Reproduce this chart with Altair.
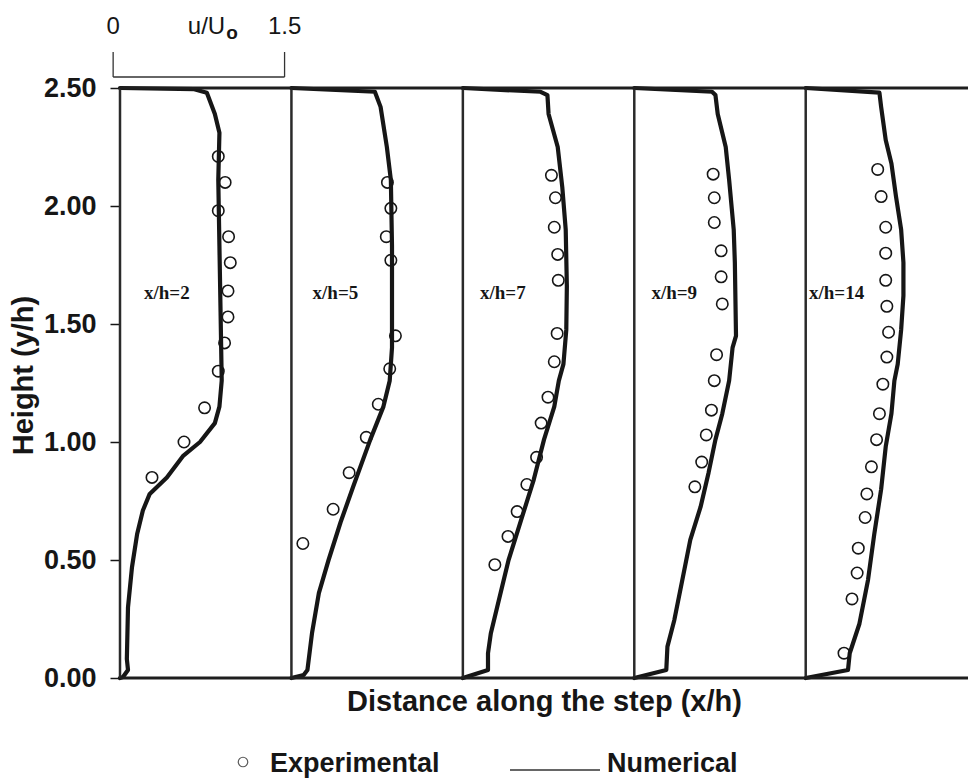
import altair as alt
import pandas as pd

# Measuring stations behind the step
stations = ["x/h=2", "x/h=5", "x/h=7", "x/h=9", "x/h=14"]

# Numerical velocity profiles, u/Uo against y/h, one pair of lists per station
num_u_2 = [0, 0.65, 0.76, 0.83, 0.87, 0.86, 0.87, 0.88, 0.89, 0.87, 0.83, 0.70, 0.55, 0.41, 0.26, 0.20, 0.15, 0.105, 0.07, 0.06, 0.07, 0.026, 0]
num_y_2 = [2.50, 2.495, 2.48, 2.39, 2.31, 2.11, 1.83, 1.55, 1.26, 1.15, 1.08, 1.00, 0.94, 0.85, 0.78, 0.71, 0.61, 0.47, 0.30, 0.08, 0.034, 0.004, 0]

num_u_5 = [0, 0.73, 0.78, 0.835, 0.87, 0.88, 0.88, 0.86, 0.805, 0.69, 0.54, 0.43, 0.325, 0.24, 0.18, 0.14, 0.107, 0]
num_y_5 = [2.50, 2.484, 2.42, 2.25, 2.11, 1.83, 1.40, 1.26, 1.15, 1.01, 0.81, 0.66, 0.50, 0.36, 0.19, 0.034, 0.013, 0]

num_u_7 = [0, 0.68, 0.74, 0.75, 0.83, 0.87, 0.90, 0.91, 0.905, 0.88, 0.84, 0.80, 0.71, 0.62, 0.51, 0.40, 0.32, 0.245, 0.22, 0.22, 0]
num_y_7 = [2.50, 2.484, 2.47, 2.39, 2.25, 2.08, 1.90, 1.66, 1.475, 1.33, 1.26, 1.15, 1.01, 0.84, 0.67, 0.50, 0.34, 0.19, 0.105, 0.034, 0]

num_u_9 = [0, 0.68, 0.71, 0.73, 0.80, 0.83, 0.87, 0.88, 0.89, 0.86, 0.83, 0.77, 0.71, 0.65, 0.58, 0.49, 0.42, 0.35, 0.29, 0.28, 0]
num_y_9 = [2.50, 2.484, 2.47, 2.39, 2.25, 2.11, 1.90, 1.76, 1.45, 1.40, 1.26, 1.12, 1.01, 0.87, 0.725, 0.585, 0.415, 0.245, 0.133, 0.034, 0]

num_u_14 = [0, 0.645, 0.66, 0.70, 0.75, 0.79, 0.835, 0.855, 0.855, 0.835, 0.805, 0.776, 0.75, 0.70, 0.66, 0.60, 0.545, 0.47, 0.385, 0.37, 0]
num_y_14 = [2.50, 2.48, 2.42, 2.28, 2.18, 2.04, 1.90, 1.76, 1.62, 1.475, 1.33, 1.26, 1.12, 0.98, 0.80, 0.61, 0.415, 0.23, 0.105, 0.034, 0]

# Experimental velocity profiles, u/Uo against y/h
exp_u_2 = [0.86, 0.92, 0.86, 0.95, 0.965, 0.945, 0.945, 0.915, 0.86, 0.74, 0.56, 0.28]
exp_y_2 = [2.21, 2.10, 1.98, 1.87, 1.76, 1.64, 1.53, 1.42, 1.30, 1.145, 1.00, 0.85]

exp_u_5 = [0.84, 0.87, 0.83, 0.87, 0.91, 0.86, 0.76, 0.655, 0.505, 0.365, 0.10]
exp_y_5 = [2.10, 1.99, 1.87, 1.77, 1.45, 1.31, 1.16, 1.02, 0.87, 0.715, 0.57]

exp_u_7 = [0.775, 0.81, 0.80, 0.83, 0.835, 0.825, 0.80, 0.745, 0.685, 0.645, 0.56, 0.475, 0.395, 0.28]
exp_y_7 = [2.13, 2.035, 1.91, 1.795, 1.685, 1.46, 1.34, 1.19, 1.08, 0.935, 0.82, 0.705, 0.60, 0.48]

exp_u_9 = [0.69, 0.70, 0.70, 0.76, 0.76, 0.77, 0.72, 0.70, 0.675, 0.63, 0.59, 0.53]
exp_y_9 = [2.135, 2.035, 1.93, 1.81, 1.70, 1.585, 1.37, 1.26, 1.135, 1.03, 0.915, 0.81]

exp_u_14 = [0.63, 0.66, 0.70, 0.70, 0.70, 0.71, 0.725, 0.71, 0.675, 0.645, 0.62, 0.575, 0.535, 0.52, 0.46, 0.45, 0.405, 0.335]
exp_y_14 = [2.155, 2.04, 1.91, 1.80, 1.685, 1.575, 1.465, 1.36, 1.245, 1.12, 1.01, 0.895, 0.78, 0.68, 0.55, 0.445, 0.335, 0.105]

# y/h ticks
y_ticks = [0.0, 0.5, 1.0, 1.5, 2.0, 2.5]

# Scale bar for u/Uo
scale_bar_u = [0.0, 1.5]

# ---- layout constants -------------------------------------------------------
PANEL = 1.5          # horizontal room (in u/Uo) given to each station
X_MAX = 7.42         # right end of the x range
Y_MAX = 2.5
W, H = 848, 590
FONT = "Liberation Sans"
INK = "#161616"

# station label placement inside each panel (u/Uo offset, y/h)
label_u = [0.41, 0.385, 0.35, 0.35, 0.27]
label_y = 1.63

numerical = [(num_u_2, num_y_2), (num_u_5, num_y_5), (num_u_7, num_y_7),
             (num_u_9, num_y_9), (num_u_14, num_y_14)]
experimental = [(exp_u_2, exp_y_2), (exp_u_5, exp_y_5), (exp_u_7, exp_y_7),
                (exp_u_9, exp_y_9), (exp_u_14, exp_y_14)]

num_rows, exp_rows, st_rows = [], [], []
for i, st in enumerate(stations):
    base = i * PANEL
    us, ys = numerical[i]
    for k, (u, y) in enumerate(zip(us, ys)):
        num_rows.append({"station": st, "seq": k, "x": base + u, "y": y})
    us, ys = experimental[i]
    for u, y in zip(us, ys):
        exp_rows.append({"station": st, "x": base + u, "y": y})
    st_rows.append({"station": st, "x": base, "y0": 0.0, "y1": Y_MAX,
                    "lx": base + label_u[i], "ly": label_y})

num_df = pd.DataFrame(num_rows)
exp_df = pd.DataFrame(exp_rows)
st_df = pd.DataFrame(st_rows)
hline_df = pd.DataFrame({"y": [0.0, Y_MAX], "x": [0.0, 0.0], "x2": [X_MAX, X_MAX]})

x_scale = alt.Scale(domain=[0, X_MAX], nice=False, zero=False)
y_scale = alt.Scale(domain=[0, Y_MAX], nice=False)

x_axis = alt.Axis(labels=False, ticks=False, domain=False, grid=False,
                  title="Distance along the step (x/h)", titleFont=FONT,
                  titleFontSize=29, titleFontWeight="bold", titleColor=INK,
                  titlePadding=9)
y_axis = alt.Axis(values=y_ticks, format=".2f", domain=False, grid=False,
                  tickSize=10, tickWidth=1.5, tickColor=INK,
                  labelFont=FONT, labelFontSize=27, labelFontWeight="bold",
                  labelColor=INK, labelPadding=14,
                  title="Height (y/h)", titleFont=FONT, titleFontSize=29,
                  titleFontWeight="bold", titleColor=INK, titleAngle=270,
                  titleX=-88, titleY=H / 2 - 8, titleAlign="center",
                  titleBaseline="alphabetic")


def X(field):
    return alt.X(field, type="quantitative", scale=x_scale, axis=x_axis)


def Y(field):
    return alt.Y(field, type="quantitative", scale=y_scale, axis=y_axis)


# numerical profiles
num_lines = alt.Chart(num_df).mark_line(
    color=INK, strokeWidth=4.2, strokeJoin="round", strokeCap="round"
).encode(x=X("x"), y=Y("y"), detail="station:N", order="seq:Q")

# station lines and the top / bottom frame
station_lines = alt.Chart(st_df).mark_rule(color="#2a2a2a", strokeWidth=2.5).encode(
    x=X("x"), y=Y("y0"), y2="y1:Q",
)

frame_lines = alt.Chart(hline_df).mark_rule(color="#1e1e1e", strokeWidth=3).encode(
    x=X("x"), x2="x2:Q", y=Y("y"),
)

exp_points = alt.Chart(exp_df).mark_point(
    shape="circle", filled=False, size=130, strokeWidth=1.6, color=INK, opacity=1
).encode(x=X("x"), y=Y("y"))

station_labels = alt.Chart(st_df).mark_text(
    font="Liberation Serif", fontWeight="bold", fontSize=19, color=INK,
    align="center", baseline="middle"
).encode(x=X("lx"), y=Y("ly"), text="station:N")

# u/Uo scale bar above the first station
bar_x0 = -0.06
bar_df = pd.DataFrame({"x": [bar_x0 + v for v in scale_bar_u],
                       "label": ["0", "1.5"]})
bar_h = alt.Chart(pd.DataFrame({"x": [bar_x0 + scale_bar_u[0]],
                                "x2": [bar_x0 + scale_bar_u[1]]})).mark_rule(
    color="#333", strokeWidth=1.3
).encode(x=X("x"), x2="x2:Q", y=alt.value(-11))
bar_v = alt.Chart(bar_df).mark_rule(color="#333", strokeWidth=1.3).encode(
    x=X("x"), y=alt.value(-36), y2=alt.value(-11)
)
bar_text = alt.Chart(bar_df).mark_text(
    font=FONT, fontSize=24, color=INK, align="center", baseline="alphabetic"
).encode(x=X("x"), y=alt.value(-54), text="label:N")
bar_name = alt.Chart(pd.DataFrame({"x": [bar_x0 + 0.98]})).mark_text(
    font=FONT, fontSize=24, color=INK, align="right", baseline="alphabetic"
).encode(x=X("x"), y=alt.value(-54), text=alt.value("u/U"))
bar_sub = alt.Chart(pd.DataFrame({"x": [bar_x0 + 0.99]})).mark_text(
    font=FONT, fontSize=19, fontWeight="bold", color=INK, align="left", baseline="alphabetic"
).encode(x=X("x"), y=alt.value(-49), text=alt.value("o"))

# legend row under the axis title
leg_circle = alt.Chart(pd.DataFrame({"k": [0]})).mark_point(
    shape="circle", filled=False, size=90, strokeWidth=1.2, color=INK
).encode(x=alt.value(123), y=alt.value(674))
leg_exp = alt.Chart(pd.DataFrame({"k": [0]})).mark_text(
    font=FONT, fontSize=27, fontWeight="bold", color=INK, align="left", baseline="middle"
).encode(x=alt.value(150), y=alt.value(676), text=alt.value("Experimental"))
leg_line = alt.Chart(pd.DataFrame({"k": [0]})).mark_rule(color="#333", strokeWidth=1.5).encode(
    x=alt.value(390), x2=alt.value(480), y=alt.value(682)
)
leg_num = alt.Chart(pd.DataFrame({"k": [0]})).mark_text(
    font=FONT, fontSize=27, fontWeight="bold", color=INK, align="left", baseline="middle"
).encode(x=alt.value(487), y=alt.value(676), text=alt.value("Numerical"))

chart = alt.layer(
    num_lines, station_lines, frame_lines, exp_points, station_labels,
    bar_h, bar_v, bar_text, bar_name, bar_sub,
    leg_circle, leg_exp, leg_line, leg_num,
).properties(
    width=W, height=H,
    padding={"left": 120, "top": 88, "right": 0, "bottom": 103},
    autosize=alt.AutoSizeParams(type="none"),
    background="white",
).configure_view(strokeWidth=0)

chart.save("out.html", embed_options={"renderer": "svg", "actions": False})
